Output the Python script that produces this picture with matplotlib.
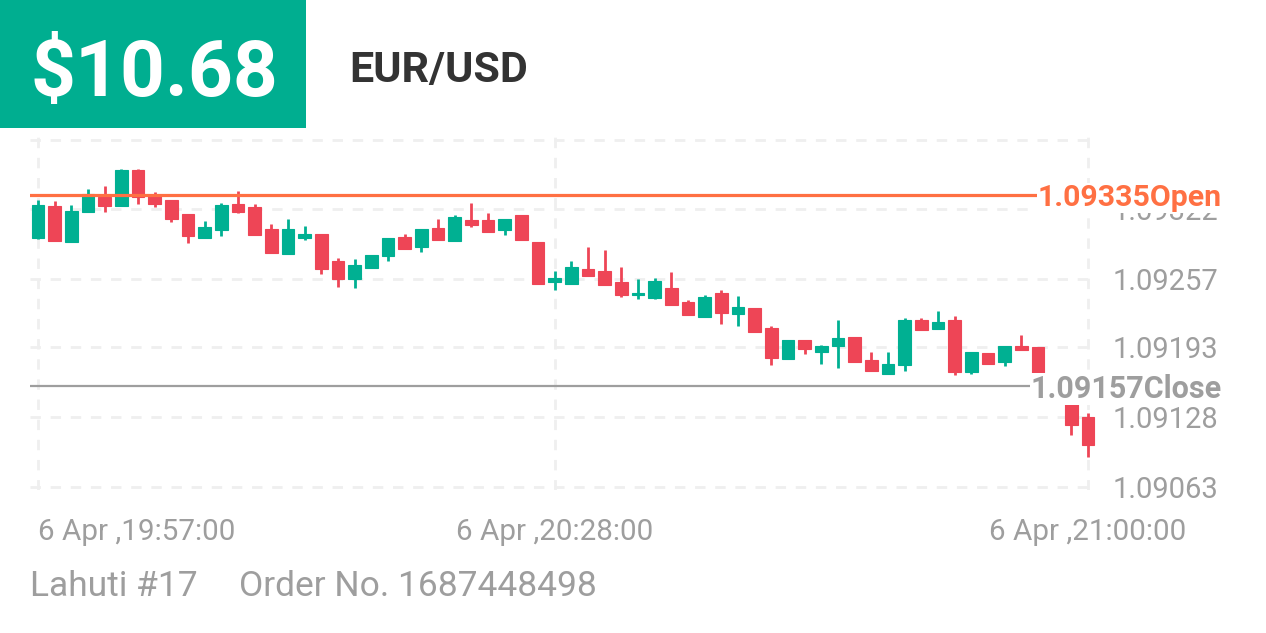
import matplotlib
matplotlib.use("Agg")
import matplotlib.pyplot as plt
import matplotlib.transforms as mtransforms
from matplotlib.patches import Rectangle
import numpy as np

plt.rcParams['font.family'] = ['Roboto', 'DejaVu Sans']
plt.rcParams['lines.scale_dashes'] = False

# ---------------- data ----------------
opens = [1.09295, 1.09325, 1.09291, 1.09319, 1.09333, 1.09325, 1.09358, 1.09334,
         1.09330, 1.09317, 1.09295, 1.09302, 1.09327, 1.09324, 1.09303, 1.09280,
         1.09295, 1.09299, 1.09274, 1.09257, 1.09267, 1.09278, 1.09296, 1.09287,
         1.09304, 1.09292, 1.09312, 1.09312, 1.09302, 1.09316, 1.09291, 1.09254,
         1.09252, 1.09266, 1.09264, 1.09254, 1.09242, 1.09239, 1.09248, 1.09235,
         1.09221, 1.09244, 1.09224, 1.09230, 1.09211, 1.09182, 1.09200, 1.09189,
         1.09194, 1.09203, 1.09181, 1.09168, 1.09177, 1.09219, 1.09210, 1.09219,
         1.09170, 1.09188, 1.09179, 1.09194, 1.09193, 1.09146, 1.09146, 1.09128]
highs = [1.09330, 1.09329, 1.09326, 1.09341, 1.09343, 1.09359, 1.09359, 1.09338,
         1.09330, 1.09317, 1.09311, 1.09328, 1.09339, 1.09327, 1.09308, 1.09313,
         1.09306, 1.09299, 1.09276, 1.09275, 1.09279, 1.09295, 1.09299, 1.09303,
         1.09313, 1.09316, 1.09328, 1.09318, 1.09313, 1.09316, 1.09291, 1.09264,
         1.09274, 1.09287, 1.09284, 1.09268, 1.09257, 1.09258, 1.09263, 1.09237,
         1.09242, 1.09247, 1.09241, 1.09230, 1.09213, 1.09200, 1.09200, 1.09195,
         1.09219, 1.09203, 1.09189, 1.09189, 1.09220, 1.09220, 1.09227, 1.09222,
         1.09189, 1.09188, 1.09194, 1.09205, 1.09193, 1.09146, 1.09146, 1.09132]
lows = [1.09294, 1.09292, 1.09291, 1.09319, 1.09319, 1.09325, 1.09327, 1.09324,
        1.09310, 1.09290, 1.09295, 1.09297, 1.09318, 1.09298, 1.09281, 1.09280,
        1.09293, 1.09261, 1.09249, 1.09248, 1.09267, 1.09274, 1.09285, 1.09282,
        1.09293, 1.09292, 1.09305, 1.09301, 1.09298, 1.09293, 1.09252, 1.09247,
        1.09252, 1.09260, 1.09251, 1.09240, 1.09238, 1.09238, 1.09233, 1.09223,
        1.09221, 1.09215, 1.09213, 1.09207, 1.09177, 1.09182, 1.09187, 1.09178,
        1.09174, 1.09179, 1.09171, 1.09168, 1.09171, 1.09209, 1.09210, 1.09167,
        1.09168, 1.09178, 1.09176, 1.09191, 1.09155, 1.09146, 1.09111, 1.09091]
closes = [1.09326, 1.09292, 1.09320, 1.09336, 1.09325, 1.09358, 1.09333, 1.09327,
          1.09313, 1.09297, 1.09305, 1.09326, 1.09319, 1.09298, 1.09281, 1.09303,
          1.09299, 1.09266, 1.09257, 1.09270, 1.09279, 1.09295, 1.09285, 1.09303,
          1.09293, 1.09315, 1.09307, 1.09301, 1.09313, 1.09293, 1.09252, 1.09258,
          1.09268, 1.09260, 1.09251, 1.09242, 1.09244, 1.09255, 1.09233, 1.09223,
          1.09240, 1.09225, 1.09231, 1.09207, 1.09183, 1.09200, 1.09192, 1.09194,
          1.09202, 1.09179, 1.09171, 1.09178, 1.09219, 1.09209, 1.09217, 1.09170,
          1.09189, 1.09178, 1.09194, 1.09191, 1.09155, 1.09146, 1.09121, 1.09102]

x_tick_index = [0, 31, 63]
x_tick_labels = ["6 Apr ,19:57:00", "6 Apr ,20:28:00", "6 Apr ,21:00:00"]
y_tick_values = [1.09063, 1.09128, 1.09193, 1.09257, 1.09322]
y_tick_labels = ["1.09063", "1.09128", "1.09193", "1.09257", "1.09322"]
open_price = 1.09335
close_price = 1.09157
open_label = "1.09335Open"
close_label = "1.09157Close"
amount_text = "$10.68"
pair_text = "EUR/USD"
trader_text = "Lahuti #17"
order_text = "Order No. 1687448498"

# ---------------- style ----------------
GREEN = '#00b092'
RED = '#ee4556'
HEADER_GREEN = '#00ae90'
GRAY = '#9e9e9e'
GRID = '#efefef'
ORANGE = '#ff7043'

W, H = 1266, 633
fig = plt.figure(figsize=(W / 100, H / 100), dpi=100)
fig.patch.set_facecolor('white')

def fx(px):
    return px / W

def fy(py):
    return 1 - py / H

# header
fig.patches.append(Rectangle((0, fy(128)), fx(306), 1 - fy(128), transform=fig.transFigure,
                             facecolor=HEADER_GREEN, edgecolor='none', zorder=0))
fig.text(fx(30), fy(96), amount_text, fontsize=56.5, fontweight='bold', color='white',
         va='baseline', ha='left')
fig.text(fx(349), fy(82), pair_text, fontsize=31, fontweight='bold', color='#333333',
         va='baseline', ha='left')

# footer
fig.text(fx(30), fy(596), trader_text, fontsize=25.5, color=GRAY, va='baseline', ha='left')
fig.text(fx(239), fy(596), order_text, fontsize=25.5, color=GRAY, va='baseline', ha='left')

# chart axes
left_px, right_px, top_px, bot_px = 30, 1096, 137, 490
ax = fig.add_axes([fx(left_px), fy(bot_px), fx(right_px - left_px), (bot_px - top_px) / H])
ax.set_facecolor('none')
for s in ax.spines.values():
    s.set_visible(False)

n = len(opens)
xs = np.arange(n)
o = np.array(opens); c = np.array(closes); hi = np.array(highs); lo = np.array(lows)
cols = [GREEN if cc > oo else RED for oo, cc in zip(o, c)]

ax.vlines(xs, lo, hi, colors=cols, linewidth=2.0, zorder=3)
ax.bar(xs, np.abs(c - o), bottom=np.minimum(o, c), width=0.76, color=cols,
       edgecolor=cols, linewidth=0.8, zorder=4)

# limits: candle 0 at px 38, candle 63 at px 1088
px_per_unit = (1088 - 38) / 63
ax.set_xlim((left_px - 38) / px_per_unit, (right_px - 38) / px_per_unit)
py_per_price = (487 - 209) / (y_tick_values[-1] - y_tick_values[0])
ax.set_ylim(y_tick_values[0] - (bot_px - 487) / py_per_price,
            y_tick_values[-1] + (209 - top_px) / py_per_price)

# grid
dash = (0, (7.5, 7.0))
ax.set_xticks(x_tick_index)
ax.set_xticklabels(x_tick_labels)
ax.set_yticks(y_tick_values)
ax.set_yticklabels(y_tick_labels)
step = (y_tick_values[-1] - y_tick_values[0]) / 4
ax.set_yticks([y_tick_values[-1] + step], minor=True)
ax.grid(True, which='both', color=GRID, linewidth=2.0, linestyle=dash, zorder=0)
ax.set_axisbelow(True)
ax.yaxis.tick_right()
ax.tick_params(axis='both', which='both', length=0)
ax.tick_params(axis='y', labelsize=21, labelcolor=GRAY, pad=12)
ax.tick_params(axis='x', labelsize=21.3, labelcolor=GRAY, pad=20)
xl = ax.get_xticklabels()
xl[0].set_ha('left')

# open / close lines
ax.axhline(open_price, color=ORANGE, linewidth=2.3, zorder=5)
ax.axhline(close_price, color=GRAY, linewidth=1.6, zorder=5)
trans = mtransforms.blended_transform_factory(fig.transFigure, ax.transData)
ax.text(fx(1222), open_price, open_label, transform=trans, ha='right', va='center_baseline',
        fontsize=21.8, fontweight='bold', color=ORANGE, zorder=10, clip_on=False,
        bbox=dict(facecolor='white', edgecolor='none', pad=0.5))
ax.text(fx(1222), close_price, close_label, transform=trans, ha='right', va='center_baseline',
        fontsize=22, fontweight='bold', color=GRAY, zorder=10, clip_on=False,
        bbox=dict(facecolor='white', edgecolor='none', pad=0.5))

fig.savefig('out.png', dpi=100, facecolor='white')
